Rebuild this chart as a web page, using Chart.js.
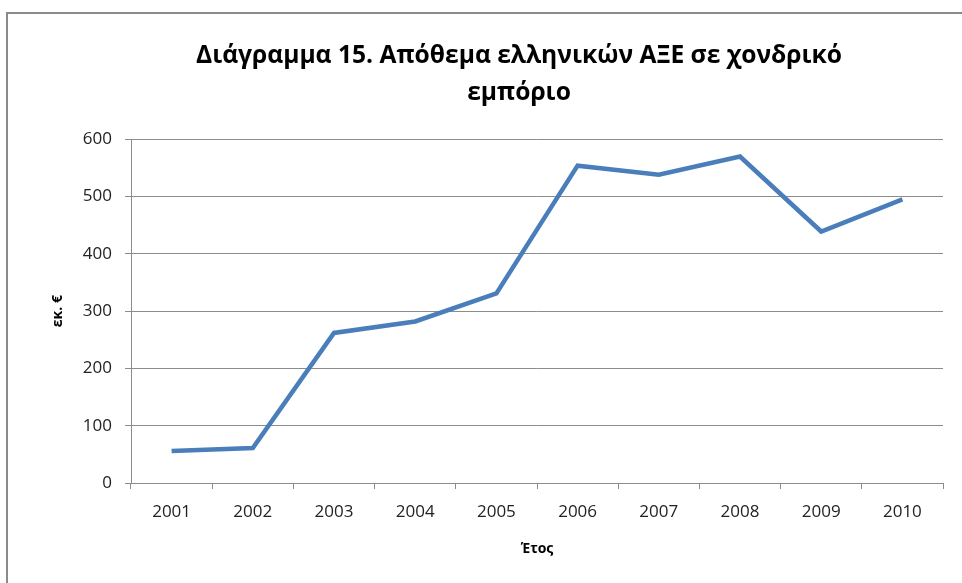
<!DOCTYPE html>
<html>
<head>
<meta charset="utf-8">
<script src="https://cdn.jsdelivr.net/npm/chart.js@4/dist/chart.umd.min.js"></script>
<style>
  html, body { margin: 0; padding: 0; background: #fff; overflow: hidden; width: 962px; height: 583px; }
  #box { position: absolute; left: 6px; top: 12px; border: 2px solid #8a8a8a; background: #fff; }
  #chart { display: block; }
</style>
</head>
<body>
<div id="box"><canvas id="chart" width="1022" height="580"></canvas></div>
<script>
// years and stock of Greek FDI in wholesale trade (million €)
var years = ["2001", "2002", "2003", "2004", "2005", "2006", "2007", "2008", "2009", "2010"];
var stock = [56, 61, 262, 282, 331, 554, 538, 570, 439, 495];
var yTicks = [0, 100, 200, 300, 400, 500, 600];

var titleLines = ["Διάγραμμα 15. Απόθεμα ελληνικών ΑΞΕ σε χονδρικό", "εμπόριο"];
var xTitle = "Έτος";
var yTitle = "εκ. €";

var fontFamily = "'Open Sans', 'Noto Sans', sans-serif";
var gridColor = "#8c8c8c";

var ctx = document.getElementById("chart").getContext("2d");
new Chart(ctx, {
    type: "line",
    data: {
        labels: years,
        datasets: [{
            label: "Απόθεμα",
            data: stock,
            borderColor: "#4a7ebb",
            backgroundColor: "#4a7ebb",
            borderWidth: 4.5,
            pointRadius: 0,
            tension: 0,
            borderJoinStyle: "miter"
        }]
    },
    options: {
        responsive: false,
        animation: false,
        layout: { padding: 0 },
        plugins: {
            legend: { display: false },
            tooltip: { enabled: false },
            title: {
                display: true,
                text: titleLines,
                color: "#000",
                font: { family: fontFamily, size: 24.6, weight: "bold", lineHeight: 37 / 24.6 },
                padding: { top: 23.5, bottom: 27.8 }
            }
        },
        scales: {
            x: {
                offset: true,
                grid: { offset: true, drawOnChartArea: false, color: gridColor, tickLength: 6 },
                border: { color: gridColor, width: 1 },
                ticks: { color: "#222", font: { family: fontFamily, size: 17 }, padding: 13, maxRotation: 0 },
                title: {
                    display: true, text: xTitle, color: "#000",
                    font: { family: fontFamily, size: 14, weight: "bold" },
                    padding: { top: 0, bottom: 37 }
                },
                afterFit: function (scale) { scale.height = 111; }
            },
            y: {
                min: 0,
                max: 600,
                afterBuildTicks: function (scale) {
                    scale.ticks = yTicks.map(function (v) { return { value: v }; });
                },
                grid: { color: gridColor, tickLength: 6 },
                border: { color: gridColor, width: 1 },
                ticks: { color: "#222", font: { family: fontFamily, size: 17 }, padding: 13 },
                title: {
                    display: true, text: yTitle, color: "#000",
                    font: { family: fontFamily, size: 14, weight: "bold" },
                    padding: { top: 41.6, bottom: 0 }
                },
                afterFit: function (scale) { scale.width = 123; }
            },
            // empty right-hand axis keeps the plot clear of the right side
            yRight: {
                position: "right",
                display: true,
                grid: { display: false },
                border: { display: false },
                ticks: { display: false },
                afterFit: function (scale) { scale.width = 87; }
            }
        }
    }
});
</script>
</body>
</html>
